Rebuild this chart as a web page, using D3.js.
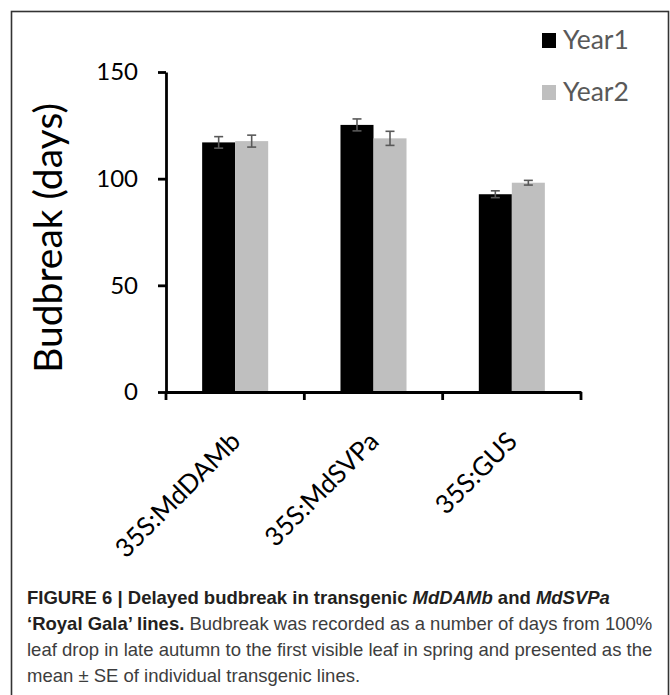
<!DOCTYPE html>
<html>
<head>
<meta charset="utf-8">
<script src="https://cdn.jsdelivr.net/npm/d3@7"></script>
<style>
  html, body { margin: 0; padding: 0; background: #fff; }
  svg { display: block; }
</style>
</head>
<body>
<svg id="chart" width="670" height="695"></svg>
<script>
// Budbreak timing of transgenic 'Royal Gala' lines over two seasons
const categories = ["35S:MdDAMb", "35S:MdSVPa", "35S:GUS"];
const seriesNames = ["Year1", "Year2"];
const year1 = [117.0, 125.2, 92.7];
const year2 = [117.6, 118.9, 98.1];
const year1Err = [2.7, 2.8, 1.6];
const year2Err = [2.8, 3.3, 1.1];
const yTicks = [0, 50, 100, 150];
const seriesColors = ["#000000", "#bfbfbf"];
const yTitle = "Budbreak (days)";

const captionLines = [
  [{t: "FIGURE 6 | Delayed budbreak in transgenic ", w: "bold"},
   {t: "MdDAMb", w: "bold", i: true},
   {t: " and ", w: "bold"},
   {t: "MdSVPa", w: "bold", i: true}],
  [{t: "\u2018Royal Gala\u2019 lines.", w: "bold"},
   {t: " Budbreak was recorded as a number of days from 100%"}],
  [{t: "leaf drop in late autumn to the first visible leaf in spring and presented as the"}],
  [{t: "mean \u00b1 SE of individual transgenic lines."}]
];

const svg = d3.select("#chart");
const chartFont = "Lato, 'Open Sans', sans-serif";
const captionFont = "'Liberation Sans', Arial, Helvetica, sans-serif";

// outer figure frame
svg.append("rect")
  .attr("x", 11.5).attr("y", 11.5)
  .attr("width", 657).attr("height", 720)
  .attr("fill", "none").attr("stroke", "#333").attr("stroke-width", 1.6);

const plot = {left: 166, right: 581, top: 72, bottom: 392};

const x = d3.scaleBand().domain(categories).range([plot.left, plot.right]);
const xInner = d3.scaleBand().domain(seriesNames)
  .range([0, x.bandwidth()]).paddingInner(0).paddingOuter(1.095);
const y = d3.scaleLinear().domain([0, 150]).range([plot.bottom, plot.top]);

const rows = categories.map((c, i) => ({
  cat: c,
  vals: [
    {s: seriesNames[0], v: year1[i], e: year1Err[i]},
    {s: seriesNames[1], v: year2[i], e: year2Err[i]}
  ]
}));

// bars
const groups = svg.append("g").selectAll("g").data(rows).join("g")
  .attr("transform", d => `translate(${x(d.cat)},0)`);

groups.selectAll("rect").data(d => d.vals).join("rect")
  .attr("x", d => xInner(d.s))
  .attr("width", xInner.bandwidth())
  .attr("y", d => y(d.v))
  .attr("height", d => y(0) - y(d.v))
  .attr("fill", (d, i) => seriesColors[i]);

// error bars (mean ± SE)
const errG = groups.selectAll("g.err").data(d => d.vals).join("g")
  .attr("class", "err")
  .attr("stroke", "#595959").attr("stroke-width", 1.6);
const cx = d => xInner(d.s) + xInner.bandwidth() / 2;
errG.append("line")
  .attr("x1", cx).attr("x2", cx)
  .attr("y1", d => y(d.v + d.e)).attr("y2", d => y(d.v - d.e));
errG.append("line")
  .attr("x1", d => cx(d) - 4.5).attr("x2", d => cx(d) + 4.5)
  .attr("y1", d => y(d.v + d.e)).attr("y2", d => y(d.v + d.e));
errG.append("line")
  .attr("x1", d => cx(d) - 4.5).attr("x2", d => cx(d) + 4.5)
  .attr("y1", d => y(d.v - d.e)).attr("y2", d => y(d.v - d.e));

// y axis
const yAxis = svg.append("g")
  .attr("transform", `translate(${plot.left},0)`)
  .call(d3.axisLeft(y).tickValues(yTicks).tickSize(8).tickSizeOuter(0).tickPadding(20));
yAxis.select(".domain").attr("stroke", "#000").attr("stroke-width", 2.8);
yAxis.selectAll(".tick line").attr("stroke", "#000").attr("stroke-width", 2.8);
yAxis.selectAll(".tick text")
  .attr("font-family", chartFont).attr("font-size", 24).attr("fill", "#000");

// x axis: baseline with tick marks on category boundaries
const xAxis = svg.append("g")
  .attr("transform", `translate(0,${plot.bottom})`)
  .call(d3.axisBottom(x).tickSize(0).tickFormat(""));
xAxis.select(".domain").attr("stroke", "#000").attr("stroke-width", 2.8);
const bounds = [plot.left].concat(categories.map(c => x(c) + x.bandwidth()));
xAxis.selectAll("line.bound").data(bounds).join("line")
  .attr("class", "bound")
  .attr("x1", d => d).attr("x2", d => d)
  .attr("y1", 0).attr("y2", 8)
  .attr("stroke", "#000").attr("stroke-width", 2.8);

// rotated category labels
svg.append("g").selectAll("text").data(categories).join("text")
  .attr("transform", d => `translate(${x(d) + x.bandwidth() / 2 + 7},${plot.bottom + 51}) rotate(-45)`)
  .attr("text-anchor", "end")
  .attr("font-family", chartFont).attr("font-size", 26).attr("fill", "#000")
  .text(d => d);

// y axis title
svg.append("text")
  .attr("transform", `translate(62,${(plot.top + plot.bottom) / 2 + 6}) rotate(-90)`)
  .attr("text-anchor", "middle")
  .attr("font-family", chartFont).attr("font-size", 39).attr("fill", "#000")
  .text(yTitle);

// legend
const legend = svg.append("g").selectAll("g").data(seriesNames).join("g")
  .attr("transform", (d, i) => `translate(542,${33 + i * 52})`);
legend.append("rect")
  .attr("width", 14).attr("height", 15)
  .attr("fill", (d, i) => seriesColors[i]);
legend.append("text")
  .attr("x", 21).attr("y", 16)
  .attr("font-family", chartFont).attr("font-size", 26.5).attr("fill", "#595959")
  .text(d => d);

// figure caption
const cap = svg.append("g");
captionLines.forEach((line, li) => {
  const t = cap.append("text")
    .attr("x", 27).attr("y", 604 + li * 26)
    .attr("font-family", captionFont).attr("font-size", 18.5);
  line.forEach(seg => {
    t.append("tspan")
      .attr("font-weight", seg.w || "normal")
      .attr("font-style", seg.i ? "italic" : "normal")
      .attr("fill", seg.w ? "#231f20" : "#3d3d3d")
      .text(seg.t);
  });
});
</script>
</body>
</html>
